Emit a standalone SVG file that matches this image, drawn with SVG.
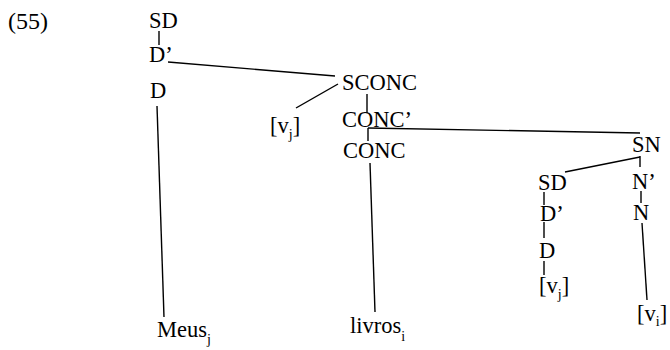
<svg xmlns="http://www.w3.org/2000/svg" width="670" height="350" viewBox="0 0 670 350">
<style>
text{font-family:"Liberation Serif","Times New Roman",serif;font-size:22.5px;fill:#000}
.sub{font-size:14px}
.ex{font-size:24px}
#connectors line{stroke:#000;stroke-width:1.4;fill:none}
</style>
<rect width="670" height="350" fill="#fff"/>
<g id="connectors">
<line x1="159" y1="31" x2="159" y2="45"/>
<line x1="168" y1="62" x2="335" y2="76"/>
<line x1="296" y1="108" x2="338" y2="84"/>
<line x1="367" y1="94" x2="367" y2="113"/>
<line x1="368" y1="128" x2="640" y2="133"/>
<line x1="368" y1="128" x2="368" y2="141"/>
<line x1="370" y1="163" x2="375" y2="312"/>
<line x1="157" y1="106" x2="164" y2="317"/>
<line x1="640" y1="157" x2="565" y2="172"/>
<line x1="640" y1="156" x2="640" y2="167"/>
<line x1="641" y1="191" x2="641" y2="203"/>
<line x1="544" y1="192" x2="544" y2="205"/>
<line x1="544" y1="222" x2="544" y2="238"/>
<line x1="544" y1="261" x2="544" y2="275"/>
<line x1="642" y1="223" x2="647" y2="300"/>
</g>
<g id="ex-number"><text class="ex" x="8" y="29">(55)</text></g>
<g id="sd1"><text x="149" y="28">SD</text></g>
<g id="dbar1"><text x="149" y="62">D’</text></g>
<g id="d1"><text x="150" y="98">D</text></g>
<g id="sconc"><text x="342" y="90">SCONC</text></g>
<g id="vj1"><text x="270" y="133">[v<tspan class="sub" dy="6">j</tspan><tspan dy="-6">]</tspan></text></g>
<g id="concbar"><text x="342" y="127">CONC’</text></g>
<g id="conc"><text x="343" y="158">CONC</text></g>
<g id="meus"><text x="157" y="337">Meus<tspan class="sub" dy="7">j</tspan></text></g>
<g id="livros"><text x="350" y="333">livros<tspan class="sub" dy="8">i</tspan></text></g>
<g id="sn"><text x="632" y="152">SN</text></g>
<g id="sd2"><text x="538" y="190">SD</text></g>
<g id="nbar"><text x="632" y="189">N’</text></g>
<g id="dbar2"><text x="540" y="221">D’</text></g>
<g id="n"><text x="633" y="220">N</text></g>
<g id="d2"><text x="539" y="258">D</text></g>
<g id="vj2"><text x="539" y="293">[v<tspan class="sub" dy="6">j</tspan><tspan dy="-6">]</tspan></text></g>
<g id="vi"><text x="637" y="321">[v<tspan class="sub" dy="5">i</tspan><tspan dy="-5">]</tspan></text></g>
</svg>
